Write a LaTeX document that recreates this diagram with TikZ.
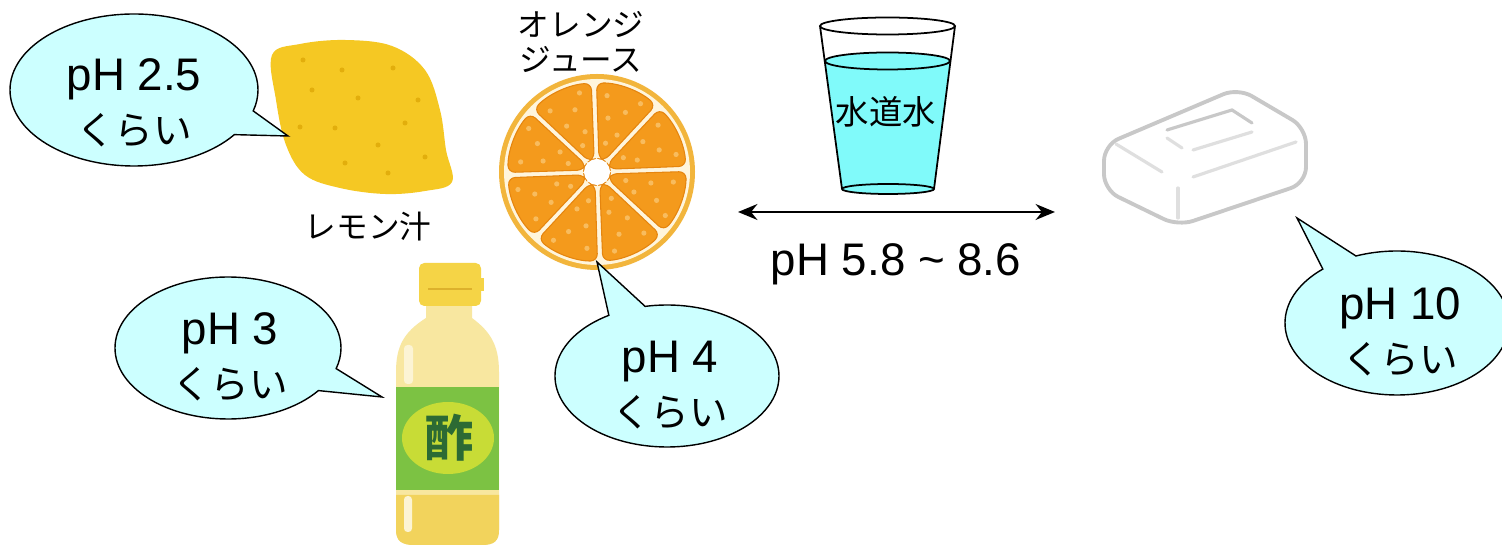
\documentclass[tikz,border=0pt]{standalone}
\usepackage{fontspec}
\setmainfont{Liberation Sans}
\newfontfamily\jp{Noto Sans CJK JP}
\usetikzlibrary{shapes.callouts,arrows.meta}

\definecolor{bubblecyan}{HTML}{CCFFFF}
\definecolor{lemoncol}{HTML}{F5C823}
\definecolor{lemondot}{HTML}{E2AE0C}
\definecolor{rindcol}{HTML}{F2B53C}
\definecolor{pithcol}{HTML}{FFF5DC}
\definecolor{segcol}{HTML}{F49A1C}
\definecolor{segedge}{HTML}{E5850E}
\definecolor{juicecol}{HTML}{F8BC5E}
\definecolor{bottlecol}{HTML}{F8E7A0}
\definecolor{bottledark}{HTML}{F2D35C}
\definecolor{bottlelight}{HTML}{FCF4D4}
\definecolor{capcol}{HTML}{F5D446}
\definecolor{capline}{HTML}{DDB12C}
\definecolor{labelgreen}{HTML}{7CC243}
\definecolor{labelyellow}{HTML}{C8DC36}
\definecolor{vinegartext}{HTML}{2C6A34}
\definecolor{watercol}{HTML}{80FAFA}
\definecolor{soapedge}{HTML}{C8C8C8}
\definecolor{soapline}{HTML}{DFDFDF}

\begin{document}
\begin{tikzpicture}[x=0.02cm, y=-0.02cm, >={Stealth[length=11pt, width=9pt]},
    bubble/.style={ellipse callout, draw, line width=0.8pt, fill=bubblecyan,
      callout pointer arc=20, inner sep=0pt},
    phtext/.style={align=center, font=\fontsize{26}{31}\selectfont},
    kana/.style={font=\jp\fontsize{22}{31}\selectfont},
    jptext/.style={align=center, font=\jp\fontsize{18}{19.5}\selectfont}]
  \useasboundingbox (0,0) rectangle (1502,546);
  \fill[white] (0,0) rectangle (1502,546);

  % lemon
  \fill[lemoncol] plot[smooth cycle, tension=0.6] coordinates {(272,55) (300,44) (345,40) (392,46)
    (425,70) (440,110) (446,150) (452,182) (425,191) (385,194) (340,188) (305,175) (286,145) (276,100)};
  \foreach \p in {(303,60),(342,70),(393,68),(312,90),(358,98),(418,100),(300,127),
      (335,128),(405,123),(378,145),(345,163),(425,157),(388,173)}
    \fill[lemondot] \p circle (2.5);
  \node[jptext] (lemonlbl) at (368,227) {レモン汁};

  % orange slice
  \begin{scope}[shift={(597,172)}]
    \fill[rindcol] (0,0) circle (98);
    \fill[pithcol] (0,0) circle (93);
    \foreach \c in {20.5,65.5,...,335.5} {
      \filldraw[fill=segcol, draw=segedge, line width=0.6pt, rounded corners=4pt]
        (\c-12:13) -- (\c-20.8:89) arc[start angle=\c-20.8, end angle=\c+20.8, radius=89]
        -- (\c+12:13) -- cycle;
      \foreach \r/\d in {30/-4, 42/8, 55/-9, 66/5, 77/-13, 81/12}
        \fill[juicecol] (\c+\d:\r) circle (2.6);
    }
    \fill[white] (0,0) circle (13);
  \end{scope}
  \node[jptext] (orangelbl) at (581,42) {オレンジ\\ジュース};

  % vinegar bottle
  \fill[bottlecol] (426,300) -- (426,318) .. controls (404,332) and (396,346) .. (396,372)
    -- (396,530) .. controls (396,541) and (402,545) .. (414,545) -- (482,545)
    .. controls (494,545) and (499,541) .. (499,530) -- (499,372)
    .. controls (499,346) and (491,332) .. (472,318) -- (472,300) -- cycle;
  \fill[bottledark] (396,495) -- (396,530) .. controls (396,541) and (402,545) .. (414,545)
    -- (482,545) .. controls (494,545) and (499,541) .. (499,530) -- (499,495) -- cycle;
  \fill[bottlelight, rounded corners=2pt] (404,345) rectangle (413,384);
  \fill[bottlelight, rounded corners=2pt] (404,496) rectangle (412,532);
  \fill[capcol, rounded corners=3pt] (419,263) rectangle (481,306);
  \fill[capcol] (478,278) rectangle (484,291);
  \draw[capline, line width=1.4pt] (428,289) -- (472,289);
  \fill[labelgreen] (396,387) rectangle (499,490);
  \fill[labelyellow] (448,438) ellipse (46 and 36);
  \node[font=\jp\bfseries\fontsize{28}{30}\selectfont, text=vinegartext] (su) at (449,438) {酢};

  % glass of tap water
  \fill[watercol] (825,61) -- (842,189) -- (934,189) -- (950,61) -- cycle;
  \fill[watercol] (887.5,61) ellipse (62.5 and 8.5);
  \fill[watercol] (888,189) ellipse (46 and 5);
  \draw[line width=1pt] (887.5,61) ellipse (62.5 and 8.5);
  \draw[line width=1pt] (888,189) ellipse (46 and 5);
  \draw[line width=1pt] (887.5,26) ellipse (67.5 and 8.5);
  \draw[line width=1pt] (820,26) -- (842,189);
  \draw[line width=1pt] (955,26) -- (934,189);
  \node[font=\jp\fontsize{19}{22}\selectfont] (waterlbl) at (886,112) {水道水};

  \coordinate (al) at (738,212);
  \coordinate (ar) at (1055,212);
  \draw[<->, line width=1.6pt] (al) -- (ar);
  \node[phtext] (range) at (896,264) {pH 5.8 \textasciitilde{} 8.6};

  % soap
  \draw[soapedge, line width=2.2pt, rounded corners=9pt, fill=white]
    (1104,145) -- (1238,88) -- (1306,128) -- (1306,183) -- (1178,226) -- (1104,190) -- cycle;
  \begin{scope}[line width=1.8pt, line cap=round]
    \draw[soapline] (1116,144) -- (1162,172);
    \draw[soapline] (1193,177) -- (1296,142);
    \draw[soapline] (1178,188) -- (1178,218);
    \draw[soapedge] (1167,130) -- (1232,110) -- (1252,123);
    \draw[soapline] (1193,150) -- (1252,132);
    \draw[soapline] (1167,138) -- (1182,148);
  \end{scope}

  % speech bubbles
  \node[bubble, minimum width=248*0.02cm, minimum height=152*0.02cm,
    callout absolute pointer={(288,136)}] (b25) at (134,90) {};
  \node[phtext] (t25) at (134,103) {pH 2.5\\{\jp\fontsize{22}{31}\selectfont くらい}};
  \node[bubble, minimum width=226*0.02cm, minimum height=142*0.02cm,
    callout absolute pointer={(382,397)}] (b3) at (228,348) {};
  \node[phtext] (t3) at (230,357) {pH 3\\{\jp\fontsize{22}{31}\selectfont くらい}};
  \node[bubble, minimum width=224*0.02cm, minimum height=142*0.02cm,
    callout absolute pointer={(597,262)}] (b4) at (667,376) {};
  \node[phtext] (t4) at (670,385) {pH 4\\{\jp\fontsize{22}{31}\selectfont くらい}};
  \node[bubble, minimum width=224*0.02cm, minimum height=144*0.02cm,
    callout absolute pointer={(1297,218)}] (b10) at (1397,323) {};
  \node[phtext] (t10) at (1400,332) {pH 10\\{\jp\fontsize{22}{31}\selectfont くらい}};
\end{tikzpicture}
\end{document}
